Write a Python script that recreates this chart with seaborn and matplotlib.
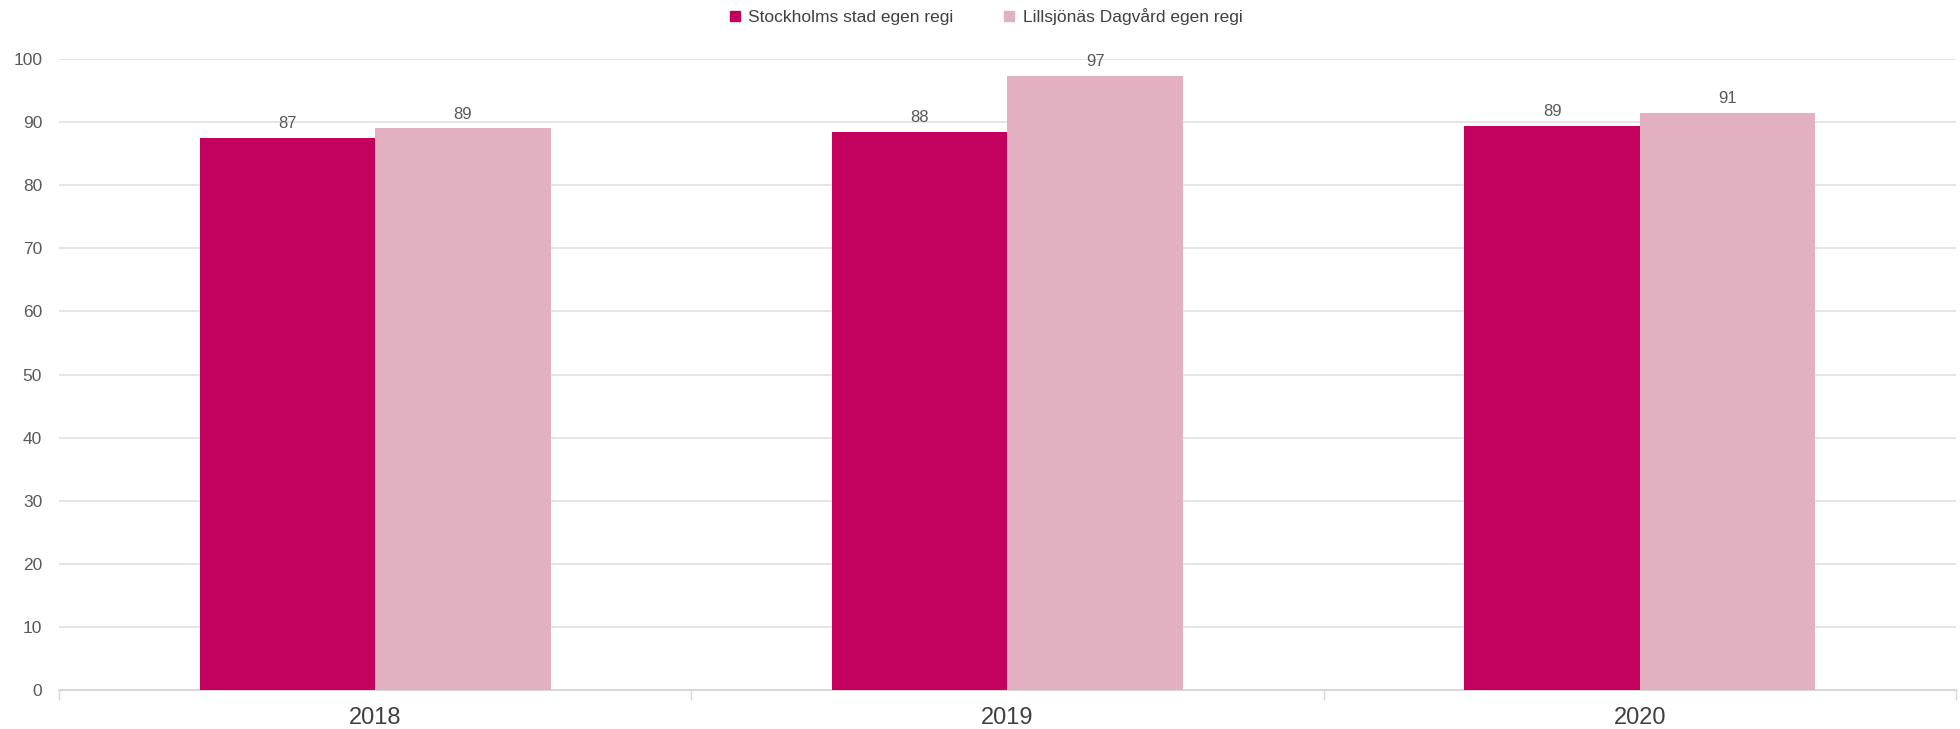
import matplotlib
matplotlib.use("Agg")
import matplotlib.pyplot as plt
import seaborn as sns
import pandas as pd
from matplotlib.lines import Line2D

years = ["2018", "2019", "2020"]
series_names = ["Stockholms stad egen regi", "Lillsjönäs Dagvård egen regi"]
stockholm = [87.45, 88.4, 89.4]
lillsjonas = [89.0, 97.3, 91.4]
colors = ["#C4005F", "#E3B0C1"]

df = pd.DataFrame({
    "year": years * 2,
    "series": [series_names[0]] * 3 + [series_names[1]] * 3,
    "value": stockholm + lillsjonas,
})

sns.set_theme(style="white")
plt.rcParams["font.family"] = ["Liberation Sans", "DejaVu Sans"]

fig = plt.figure(figsize=(19.6, 7.29), dpi=100)
ax = fig.add_axes([0.030, 0.0535, 0.968, 0.8655])

sns.barplot(data=df, x="year", y="value", hue="series", palette=colors,
            width=0.555, gap=0, saturation=1, ax=ax, legend=False,
            linewidth=0, zorder=3)

for c in ax.containers:
    ax.bar_label(c, fmt="%.0f", padding=5, fontsize=12, color="#595959")

ax.set_ylim(0, 100)
ax.set_xlim(-0.5, 2.5)
ax.set_yticks(range(0, 101, 10))
ax.yaxis.grid(True, color="#E0E0E0", linewidth=1.2, zorder=0)
ax.set_axisbelow(True)
for s in ["top", "right", "left"]:
    ax.spines[s].set_visible(False)
ax.spines["bottom"].set_color("#D9D9D9")
ax.spines["bottom"].set_linewidth(1.5)
ax.set_xlabel("")
ax.set_ylabel("")
ax.tick_params(axis="y", length=0, pad=12, labelsize=12.5, labelcolor="#595959")
ax.tick_params(axis="x", which="major", bottom=True, length=0, pad=12,
               labelsize=17, labelcolor="#404040")
# category boundary ticks
ax.set_xticks([-0.5, 0.5, 1.5, 2.5], minor=True)
ax.tick_params(axis="x", which="minor", bottom=True, length=7,
               color="#D9D9D9", width=1)

handles = [Line2D([0], [0], marker="s", linestyle="", markersize=6.5,
                  markerfacecolor=c, markeredgecolor=c) for c in colors]
fig.legend(handles, series_names, loc="upper center", bbox_to_anchor=(0.5, 1.01),
           ncol=2, frameon=False, fontsize=12.5, handletextpad=-0.2,
           columnspacing=2.2, labelcolor="#404040")

fig.savefig("out.png", dpi=100)
